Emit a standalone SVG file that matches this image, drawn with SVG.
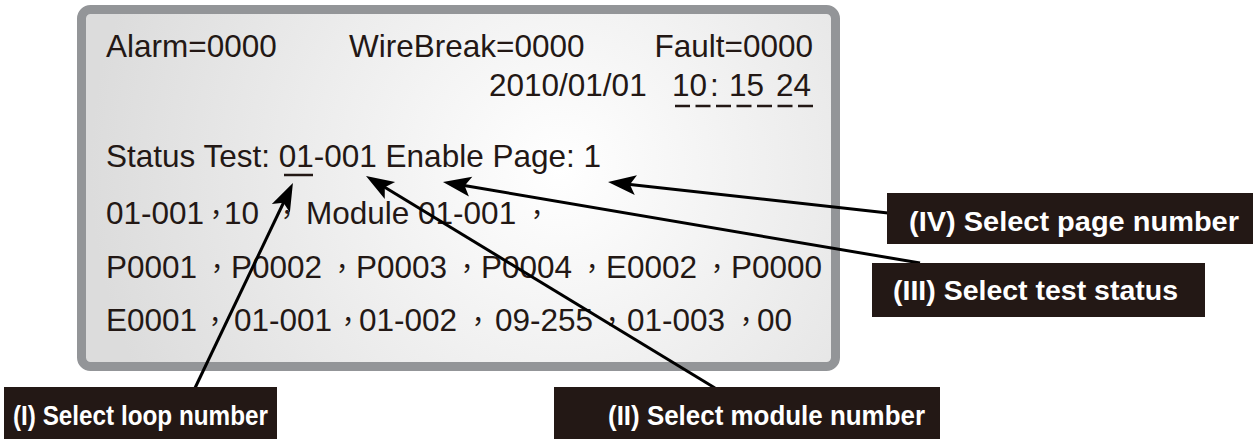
<svg xmlns="http://www.w3.org/2000/svg" width="1253" height="441" viewBox="0 0 1253 441">
<defs>
<radialGradient id="bg" gradientUnits="userSpaceOnUse" cx="560" cy="170" r="470">
<stop offset="0" stop-color="#ffffff"/>
<stop offset="0.55" stop-color="#ececec"/>
<stop offset="1" stop-color="#dcdcdc"/>
</radialGradient>
<marker id="ah" markerUnits="userSpaceOnUse" viewBox="-10 -12 32 24" refX="0" refY="0" markerWidth="32" markerHeight="24" orient="auto">
<path d="M20,0 L-8,-10 L-2,0 L-8,10 Z" fill="#000"/>
</marker>
<style>
.t{font-family:"Liberation Sans","Noto Sans CJK TC",sans-serif;font-size:31.5px;fill:#231815}
.c{font-family:"Noto Sans CJK TC","Liberation Sans",sans-serif;font-size:26px}
.lb{fill:#231815}
.lt{font-family:"Liberation Sans",sans-serif;font-weight:bold;font-size:28px;fill:#ffffff}
.ar{stroke:#000;stroke-width:3;fill:none;marker-end:url(#ah)}
</style>
</defs>
<g id="panel">
<rect x="81.5" y="9.5" width="754" height="357" rx="9" fill="url(#bg)" stroke="#939598" stroke-width="9"/>
<text class="t" x="106" y="57">Alarm=0000</text>
<text class="t" x="349" y="57">WireBreak=0000</text>
<text class="t" x="813" y="57" text-anchor="end">Fault=0000</text>
<text class="t" y="96"><tspan x="489">2010/01/01</tspan><tspan x="672">10</tspan><tspan x="710">:</tspan><tspan x="729">15</tspan><tspan x="776">24</tspan></text>
<line x1="675" y1="106" x2="813" y2="106" stroke="#231815" stroke-width="2.5" stroke-dasharray="15 5.5"/>
<text class="t" x="106" y="167">Status Test: 01-001 Enable Page: 1</text>
<line x1="284" y1="175" x2="313" y2="175" stroke="#231815" stroke-width="2.5"/>
<text class="t" y="224"><tspan x="106">01-001</tspan><tspan class="c" x="203">，</tspan><tspan x="224">10</tspan><tspan class="c" x="274">，</tspan><tspan x="306">Module 01-001</tspan><tspan class="c" x="524">，</tspan></text>
<text class="t" y="278"><tspan x="106">P0001</tspan><tspan class="c" x="204">，</tspan><tspan x="231">P0002</tspan><tspan class="c" x="329">，</tspan><tspan x="356">P0003</tspan><tspan class="c" x="454">，</tspan><tspan x="481">P0004</tspan><tspan class="c" x="579">，</tspan><tspan x="606">E0002</tspan><tspan class="c" x="704">，</tspan><tspan x="731">P0000</tspan></text>
<text class="t" y="331"><tspan x="106">E0001</tspan><tspan class="c" x="202">，</tspan><tspan x="234">01-001</tspan><tspan class="c" x="335">，</tspan><tspan x="359">01-002</tspan><tspan class="c" x="465">，</tspan><tspan x="495">09-255</tspan><tspan class="c" x="599">，</tspan><tspan x="627">01-003</tspan><tspan class="c" x="733">，</tspan><tspan x="757">00</tspan></text>
</g>
<g id="connectors">
<line class="ar" x1="195" y1="388" x2="284.3" y2="201"/>
<line class="ar" x1="715" y1="388" x2="383.1" y2="186.3"/>
<line class="ar" x1="920" y1="263" x2="462.7" y2="185.3"/>
<line class="ar" x1="888" y1="213" x2="627.9" y2="184.2"/>
</g>
<g id="label-1">
<rect class="lb" x="4" y="387" width="273" height="52"/>
<text class="lt" x="13" y="425" textLength="255" lengthAdjust="spacingAndGlyphs">(I) Select loop number</text>
</g>
<g id="label-2">
<rect class="lb" x="554" y="387" width="386" height="52"/>
<text class="lt" x="608" y="425" textLength="317" lengthAdjust="spacingAndGlyphs">(II) Select module number</text>
</g>
<g id="label-3">
<rect class="lb" x="872" y="263" width="333" height="54"/>
<text class="lt" x="893" y="300" textLength="285" lengthAdjust="spacingAndGlyphs">(III) Select test status</text>
</g>
<g id="label-4">
<rect class="lb" x="887" y="193" width="366" height="51"/>
<text class="lt" x="909" y="231" textLength="330" lengthAdjust="spacingAndGlyphs">(IV) Select page number</text>
</g>
</svg>
